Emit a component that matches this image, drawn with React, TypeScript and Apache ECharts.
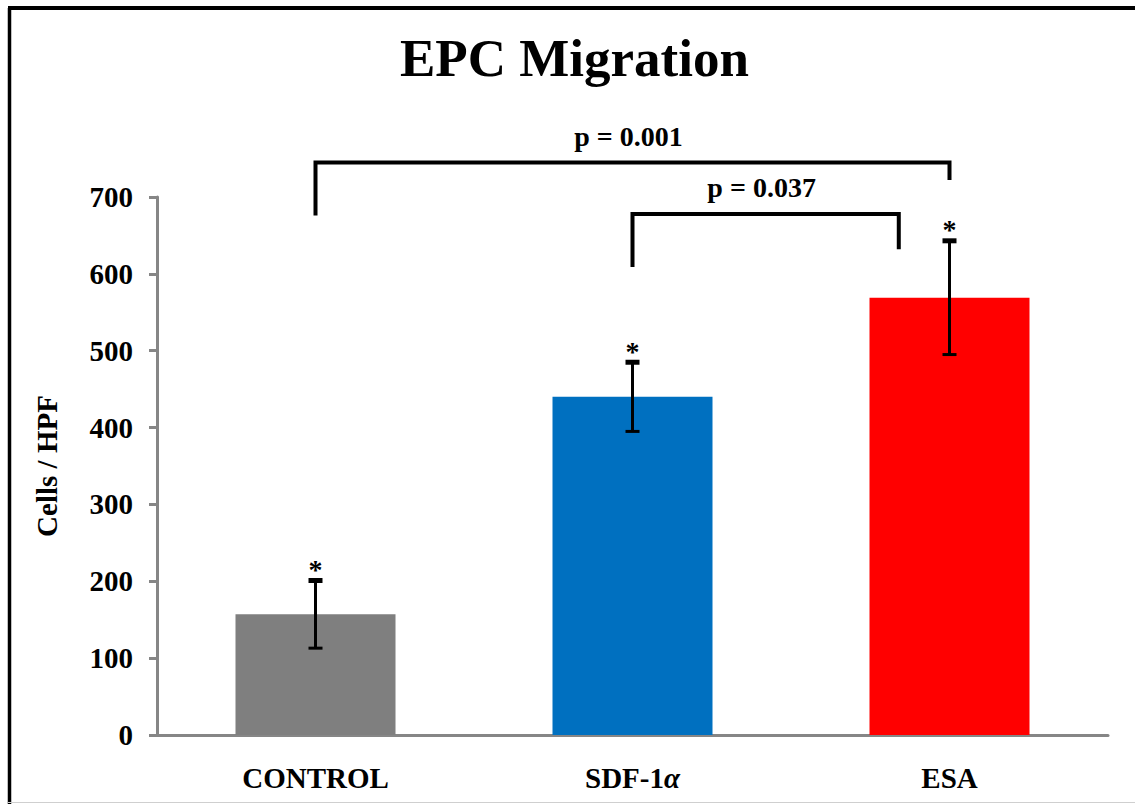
import React, { useEffect, useRef } from "react";
import * as echarts from "echarts";

// ---- data ----
const categories = ["CONTROL", "SDF-1α", "ESA"];
const means = [157, 440, 569];
const errors = [44, 45, 74];
const barColors = ["#7F7F7F", "#0070C0", "#FF0000"];
const yMin = 0;
const yMax = 700;
const yInterval = 100;
// significance brackets: [fromCategory, toCategory, barLevel, leftLegEnd, rightLegEnd]
const bracketGeom = [
  [0, 2, 745, 676, 722],
  [1, 1.84, 678, 609, 632],
];
const bracketLabels = ["p = 0.001", "p = 0.037"];

const FONT = '"Liberation Serif", "Times New Roman", serif';

export default function App() {
  const ref = useRef<HTMLDivElement>(null);

  useEffect(() => {
    const el = ref.current;
    if (!el) return;
    const chart = echarts.init(el, null, { renderer: "svg" });

    const xAt = (api: any, pos: number) => {
      const i = Math.floor(pos);
      const f = pos - i;
      const c = api.coord([i, 0])[0];
      const w = api.size([1, 0])[0];
      return c + f * w;
    };

    const option: any = {
      animation: false,
      backgroundColor: "#ffffff",
      grid: { left: 157, right: 27, top: 197, bottom: 69, containLabel: false },
      graphic: [
        {
          type: "text",
          left: 400,
          top: 31,
          style: {
            text: "EPC Migration",
            font: `bold 53px ${FONT}`,
            fill: "#000",
          },
        },
        {
          type: "line",
          shape: { x1: 9.5, y1: 8, x2: 9.5, y2: 804 },
          style: { stroke: "#000", lineWidth: 3.5 },
        },
        {
          type: "line",
          shape: { x1: 8, y1: 8, x2: 1135, y2: 8 },
          style: { stroke: "#000", lineWidth: 4 },
        },
        {
          type: "line",
          shape: { x1: 8, y1: 802.5, x2: 1135, y2: 802.5 },
          style: { stroke: "#cfcfcf", lineWidth: 1 },
        },
      ],
      xAxis: {
        type: "category",
        data: categories,
        axisLine: { lineStyle: { color: "#868686", width: 3 } },
        axisTick: { show: false },
        axisLabel: {
          margin: 28,
          fontFamily: FONT,
          fontWeight: "bold",
          fontSize: 29,
          color: "#000",
          formatter: (v: string) => (v.indexOf("α") >= 0 ? v.replace("α", "{a|α}") : v),
          rich: {
            a: {
              fontFamily: FONT,
              fontWeight: "bold",
              fontStyle: "italic",
              fontSize: 29,
              color: "#000",
            },
          },
        },
      },
      yAxis: {
        type: "value",
        min: yMin,
        max: yMax,
        interval: yInterval,
        name: "Cells / HPF",
        nameLocation: "middle",
        nameRotate: 90,
        nameGap: 96,
        nameTextStyle: {
          fontFamily: FONT,
          fontWeight: "bold",
          fontSize: 29,
          color: "#000",
        },
        axisLine: { show: true, lineStyle: { color: "#868686", width: 3 } },
        axisTick: { show: true, length: 8, lineStyle: { color: "#868686", width: 3 } },
        splitLine: { show: false },
        axisLabel: {
          margin: 24,
          fontFamily: FONT,
          fontWeight: "bold",
          fontSize: 29,
          color: "#000",
        },
      },
      series: [
        {
          type: "bar",
          barWidth: 160,
          data: means.map((v, i) => ({ value: v, itemStyle: { color: barColors[i] } })),
        },
        {
          type: "custom",
          clip: false,
          data: means.map((m, i) => [i, m, errors[i]]),
          encode: { x: 0, y: 1 },
          z: 5,
          renderItem: (params: any, api: any) => {
            const i = api.value(0);
            const m = api.value(1);
            const e = api.value(2);
            const top = api.coord([i, m + e]);
            const bot = api.coord([i, m - e]);
            const hw = 7;
            return {
              type: "group",
              children: [
                {
                  type: "line",
                  shape: { x1: top[0], y1: top[1], x2: bot[0], y2: bot[1] },
                  style: { stroke: "#000", lineWidth: 3 },
                },
                {
                  type: "line",
                  shape: { x1: top[0] - hw, y1: top[1], x2: top[0] + hw, y2: top[1] },
                  style: { stroke: "#000", lineWidth: 5 },
                },
                {
                  type: "line",
                  shape: { x1: bot[0] - hw, y1: bot[1], x2: bot[0] + hw, y2: bot[1] },
                  style: { stroke: "#000", lineWidth: 3 },
                },
                {
                  type: "text",
                  style: {
                    text: "*",
                    x: top[0],
                    y: top[1] - 11,
                    align: "center",
                    verticalAlign: "middle",
                    font: `bold 28px ${FONT}`,
                    fill: "#000",
                  },
                },
              ],
            };
          },
        },
        {
          type: "custom",
          clip: false,
          data: bracketGeom.map((b, k) => [...b, k]),
          encode: { x: 0, y: 2 },
          z: 5,
          renderItem: (params: any, api: any) => {
            const from = api.value(0);
            const to = api.value(1);
            const lvl = api.value(2);
            const lEnd = api.value(3);
            const rEnd = api.value(4);
            const k = api.value(5);
            const x1 = xAt(api, from);
            const x2 = xAt(api, to);
            const yL = api.coord([0, lvl])[1];
            const yLE = api.coord([0, lEnd])[1];
            const yRE = api.coord([0, rEnd])[1];
            return {
              type: "group",
              children: [
                {
                  type: "polyline",
                  shape: {
                    points: [
                      [x1, yLE],
                      [x1, yL],
                      [x2, yL],
                      [x2, yRE],
                    ],
                  },
                  style: { stroke: "#000", lineWidth: 4, fill: "none", lineJoin: "miter" },
                },
                {
                  type: "text",
                  style: {
                    text: bracketLabels[k],
                    x: (x1 + x2) / 2 - 4,
                    y: yL - 26,
                    align: "center",
                    verticalAlign: "middle",
                    font: `bold 28px ${FONT}`,
                    fill: "#000",
                  },
                },
              ],
            };
          },
        },
      ],
    };

    chart.setOption(option);
    return () => chart.dispose();
  }, []);

  return (
    <div
      ref={ref}
      style={{ position: "fixed", left: 0, top: 0, width: 1135, height: 804, background: "#fff" }}
    />
  );
}
